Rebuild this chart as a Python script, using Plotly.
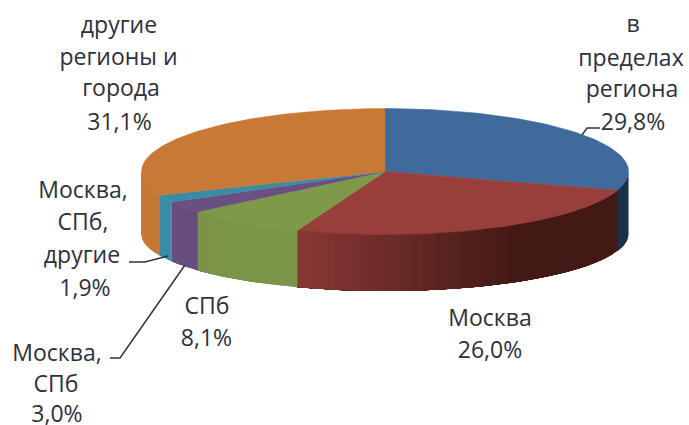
import math
import plotly.graph_objects as go

categories = ["в пределах региона", "Москва", "СПб", "Москва, СПб", "Москва, СПб, другие", "другие регионы и города"]
values = [29.8, 26.0, 8.1, 3.0, 1.9, 31.1]
top_colors = ["#3F6A9B", "#983F3C", "#7F994A", "#6A4F83", "#3A8CA5", "#C87935"]
side_left = ["#1B3048", "#8B3936", "#7A9348", "#674C7F", "#3A8CA5", "#C87935"]
side_right = ["#1B3048", "#431915", "#7C9649", "#674C7F", "#3A8CA5", "#C67733"]

label_lines = [
    ("другие", 119, 27), ("регионы и", 118.5, 59), ("города", 121, 90), ("31,1%", 119.5, 124),
    ("в", 633, 26), ("пределах", 631, 60), ("региона", 632, 91), ("29,8%", 633, 124),
    ("Москва,", 83, 192), ("СПб,", 83, 224), ("другие", 82, 257), ("1,9%", 85, 290),
    ("СПб", 207, 308), ("8,1%", 206.5, 340),
    ("Москва", 490, 320), ("26,0%", 490, 352),
    ("Москва,", 57, 355), ("СПб", 56, 386), ("3,0%", 57, 416),
]
leaders = [
    ([582, 587, 600], [135, 128, 128]),
    ([129, 145, 168], [262, 262, 256]),
    ([110, 120, 185], [358, 358, 265]),
]

CX, CY, A, B = 385, 171.5, 243.5, 63
CY2, B2 = 234, 57


def top(t):
    r = math.radians(t)
    return CX + A * math.sin(r), CY - B * math.cos(r)


def bottom(t):
    r = math.radians(t)
    return CX + A * math.sin(r), CY2 - B2 * math.cos(r)


def mix(c1, c2, f):
    a = [int(c1[i:i + 2], 16) for i in (1, 3, 5)]
    b = [int(c2[i:i + 2], 16) for i in (1, 3, 5)]
    return "rgb(%d,%d,%d)" % tuple(round(x + (y - x) * f) for x, y in zip(a, b))


def poly(xs, ys, color, width=0.0):
    return go.Scatter(x=xs, y=ys, mode="lines", fill="toself", fillcolor=color,
                      line=dict(color=color, width=width), hoverinfo="skip", showlegend=False)


fig = go.Figure()
total = sum(values)
edges = [0.0]
for v in values:
    edges.append(edges[-1] + v / total * 360)

# walls of the front half, split into strips that each overlap the next one
for i, v in enumerate(values):
    lo, hi = max(edges[i], 90), min(edges[i + 1], 270)
    if hi <= lo:
        continue
    steps = max(2, int((hi - lo) / 3))
    x_lo, x_hi = top(lo)[0], top(hi)[0]
    for s in range(steps):
        t0 = lo + (hi - lo) * s / steps
        t1 = hi
        ts = [t0 + (t1 - t0) * k / 40 for k in range(41)]
        xs = [top(t)[0] for t in ts] + [bottom(t)[0] for t in reversed(ts)]
        ys = [top(t)[1] for t in ts] + [bottom(t)[1] for t in reversed(ts)]
        f = (top(t0)[0] - x_lo) / (x_hi - x_lo) if x_hi != x_lo else 0
        g = max(0.0, (f - 0.3) / 0.7)
        fig.add_trace(poly(xs, ys, mix(side_right[i], side_left[i], g)))

# top faces
for i in range(len(values)):
    n = max(3, int((edges[i + 1] - edges[i]) / 1.5))
    ts = [edges[i] + (edges[i + 1] - edges[i]) * k / n for k in range(n + 1)]
    xs = [CX] + [top(t)[0] for t in ts] + [CX]
    ys = [CY] + [top(t)[1] for t in ts] + [CY]
    fig.add_trace(poly(xs, ys, top_colors[i], 0.5))

for lx, ly in leaders:
    fig.add_trace(go.Scatter(x=lx, y=ly, mode="lines", line=dict(color="#333333", width=1.5),
                             hoverinfo="skip", showlegend=False))

fig.add_trace(go.Scatter(
    x=[l[1] for l in label_lines], y=[l[2] for l in label_lines],
    text=[l[0] for l in label_lines], mode="text", textposition="middle center",
    textfont=dict(family="Open Sans", size=23, color="#30303C"),
    hoverinfo="skip", showlegend=False, cliponaxis=False))

fig.update_layout(
    width=689, height=425, margin=dict(l=0, r=0, t=0, b=0),
    paper_bgcolor="white", plot_bgcolor="white", showlegend=False,
    xaxis=dict(range=[0, 689], visible=False, fixedrange=True),
    yaxis=dict(range=[425, 0], visible=False, fixedrange=True),
)
fig.write_html("out.html", config={"displayModeBar": False},
               post_script="document.body.style.margin='0';document.body.style.overflow='hidden';")
